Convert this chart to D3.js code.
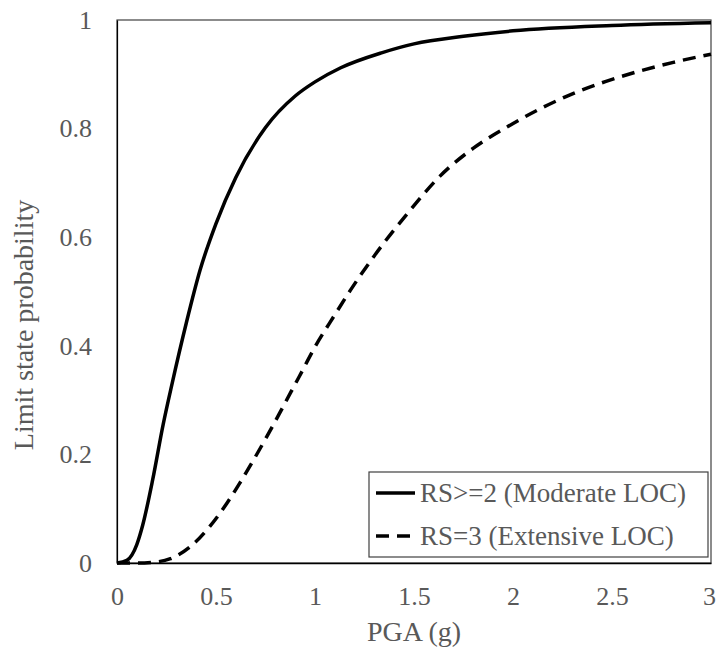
<!DOCTYPE html>
<html>
<head>
<meta charset="utf-8">
<script src="https://cdn.jsdelivr.net/npm/d3@7"></script>
<style>
  body { margin: 0; background: #fff; }
  svg { display: block; }
</style>
</head>
<body>
<div id="chart"></div>
<script>
// PGA (g) values, with the limit state probability at each
const moderatePga  = [0, 0.05, 0.1, 0.13, 0.18, 0.233, 0.278, 0.35, 0.42, 0.5, 0.6, 0.75, 0.9, 1.0, 1.13, 1.34, 1.5, 1.75, 2.0, 2.5, 3.0];
const moderateProb = [0, 0.005, 0.034, 0.07, 0.153, 0.255, 0.33, 0.442, 0.54, 0.625, 0.71, 0.802, 0.86, 0.886, 0.912, 0.94, 0.956, 0.970, 0.980, 0.990, 0.995];

const extensivePga  = [0, 0.1, 0.2, 0.27, 0.37, 0.47, 0.555, 0.62, 0.69, 0.76, 0.82, 0.88, 0.92, 1.0, 1.1, 1.18, 1.3, 1.47, 1.63, 1.8, 1.97, 2.14, 2.3, 2.47, 2.64, 2.81, 3.0];
const extensiveProb = [0, 0, 0.002, 0.008, 0.03, 0.068, 0.11, 0.147, 0.19, 0.235, 0.275, 0.316, 0.343, 0.398, 0.457, 0.503, 0.566, 0.645, 0.712, 0.764, 0.803, 0.837, 0.864, 0.887, 0.906, 0.922, 0.937];

const seriesNames = ["RS>=2 (Moderate LOC)", "RS=3 (Extensive LOC)"];
const xTicks = [0, 0.5, 1, 1.5, 2, 2.5, 3];
const yTicks = [0, 0.2, 0.4, 0.6, 0.8, 1];

const width = 716, height = 648;
const margin = { top: 20, right: 5, bottom: 85, left: 117 };
const font = "'Liberation Serif', 'Times New Roman', Times, serif";
const textColor = "#595959";

const svg = d3.select("#chart").append("svg")
    .attr("width", width)
    .attr("height", height)
    .attr("font-family", font);

const x = d3.scaleLinear().domain([0, 3]).range([margin.left, width - margin.right]);
const y = d3.scaleLinear().domain([0, 1]).range([height - margin.bottom, margin.top]);

// frame
svg.append("rect")
    .attr("x", x(0)).attr("y", y(1))
    .attr("width", x(3) - x(0)).attr("height", y(0) - y(1))
    .attr("fill", "none")
    .attr("stroke", "#404040")
    .attr("stroke-width", 1.2);

// axes, no tick marks
const xAxis = svg.append("g")
    .attr("transform", `translate(0,${y(0)})`)
    .call(d3.axisBottom(x).tickValues(xTicks).tickSize(0).tickPadding(24).tickFormat(d3.format("")));
xAxis.attr("font-family", font).attr("font-size", 26);
xAxis.select(".domain").attr("stroke", "#000").attr("stroke-width", 1.5);
xAxis.selectAll("text").attr("fill", textColor)
    .attr("dx", d => d === 3 ? -2 : 0);

const yAxis = svg.append("g")
    .attr("transform", `translate(${x(0)},0)`)
    .call(d3.axisLeft(y).tickValues(yTicks).tickSize(0).tickPadding(25).tickFormat(d3.format("")));
yAxis.attr("font-family", font).attr("font-size", 26);
yAxis.select(".domain").attr("stroke", "#000").attr("stroke-width", 1.2);
yAxis.selectAll("text").attr("fill", textColor);

// axis titles
svg.append("text")
    .attr("x", (x(0) + x(3)) / 2)
    .attr("y", 641)
    .attr("text-anchor", "middle")
    .attr("font-size", 28)
    .attr("fill", textColor)
    .text("PGA (g)");

svg.append("text")
    .attr("transform", "translate(33,325) rotate(-90)")
    .attr("text-anchor", "middle")
    .attr("font-size", 28)
    .attr("fill", textColor)
    .text("Limit state probability");

// curves
const line = d3.line()
    .x(d => x(d[0]))
    .y(d => y(d[1]))
    .curve(d3.curveMonotoneX);

const moderate = d3.zip(moderatePga, moderateProb);
const extensive = d3.zip(extensivePga, extensiveProb);

svg.append("path")
    .datum(moderate)
    .attr("d", line)
    .attr("fill", "none")
    .attr("stroke", "#000")
    .attr("stroke-width", 3.5);

svg.append("path")
    .datum(extensive)
    .attr("d", line)
    .attr("fill", "none")
    .attr("stroke", "#000")
    .attr("stroke-width", 3.5)
    .attr("stroke-dasharray", "13,8");

// legend
const legend = svg.append("g").attr("transform", "translate(369,472)");
legend.append("rect")
    .attr("width", 339).attr("height", 85)
    .attr("fill", "#fff")
    .attr("stroke", "#404040")
    .attr("stroke-width", 1.2);

const dashes = [null, "13,8"];
seriesNames.forEach((name, i) => {
    const row = legend.append("g").attr("transform", `translate(0,${21 + i * 43})`);
    row.append("line")
        .attr("x1", 7).attr("x2", 46)
        .attr("stroke", "#000")
        .attr("stroke-width", 3.5)
        .attr("stroke-dasharray", dashes[i]);
    row.append("text")
        .attr("x", 51)
        .attr("y", 9)
        .attr("font-size", 27)
        .attr("fill", textColor)
        .text(name);
});
</script>
</body>
</html>
